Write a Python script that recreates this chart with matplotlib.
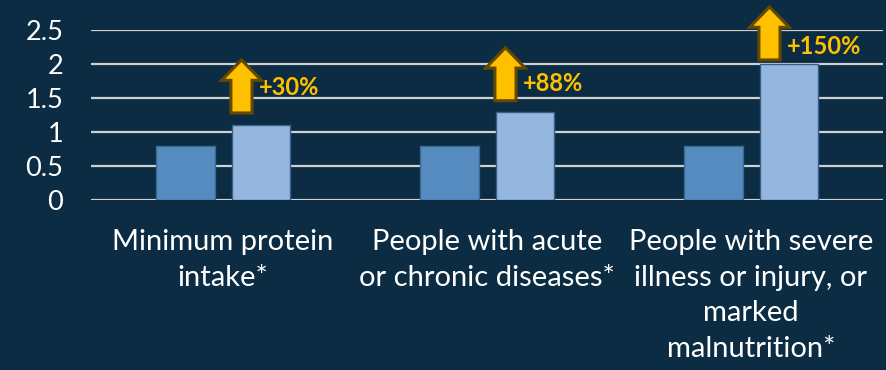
import numpy as np
import matplotlib
matplotlib.use("Agg")
import matplotlib.pyplot as plt
from matplotlib.patches import FancyArrow

# data
categories = ["Minimum protein\nintake*",
              "People with acute\nor chronic diseases*",
              "People with severe\nillness or injury, or\nmarked\nmalnutrition*"]
baseline = [0.8, 0.8, 0.8]
increased = [1.1, 1.3, 2.0]
pct_labels = ["+30%", "+88%", "+150%"]
arrow_base = [1.28, 1.46, 2.06]
label_y = [1.66, 1.72, 2.25]
yticks = [0, 0.5, 1, 1.5, 2, 2.5]

bg = "#0b2c42"
plt.rcParams['font.family'] = ['Lato', 'DejaVu Sans']

fig = plt.figure(figsize=(8.87, 3.70), dpi=100, facecolor=bg)
ax = fig.add_axes([91 / 887, 170 / 370, 792 / 887, 170 / 370])
ax.set_facecolor(bg)

x = np.arange(len(categories))
w = 0.22
ax.bar(x - 0.142, baseline, w, color="#558bbf", edgecolor="#3b6890", linewidth=1, zorder=3)
ax.bar(x + 0.145, increased, w, color="#95b7df", edgecolor="#36618a", linewidth=1, zorder=3)

# arrows and percentage labels
for i in range(len(categories)):
    ax_x = x[i] + 0.07
    a = FancyArrow(ax_x, arrow_base[i], 0, 0.78, width=0.08, head_width=0.15,
                   head_length=0.3, length_includes_head=True,
                   facecolor="#ffc000", edgecolor="#634a00", linewidth=2.2,
                   zorder=5, clip_on=False)
    ax.add_patch(a)
    ax.text(ax_x + 0.065, label_y[i], pct_labels[i], color="#ffc000",
            fontsize=17, fontweight="bold", va="center", ha="left", zorder=6)

ax.set_xlim(-0.5, 2.5)
ax.set_ylim(0, 2.5)
ax.set_yticks(yticks)
ax.set_yticklabels([f"{v:g}" for v in yticks], color="white", fontsize=19.5)
ax.set_xticks(x)
ax.set_xticklabels(categories, color="white", fontsize=21, linespacing=1.45)
ax.tick_params(axis="y", length=0, pad=20)
ax.tick_params(axis="x", length=0, pad=21)

ax.grid(axis="y", color="#d0d0d0", linewidth=1.6, zorder=0)
for s in ax.spines.values():
    s.set_visible(False)

fig.savefig("out.png", dpi=100, facecolor=bg)
